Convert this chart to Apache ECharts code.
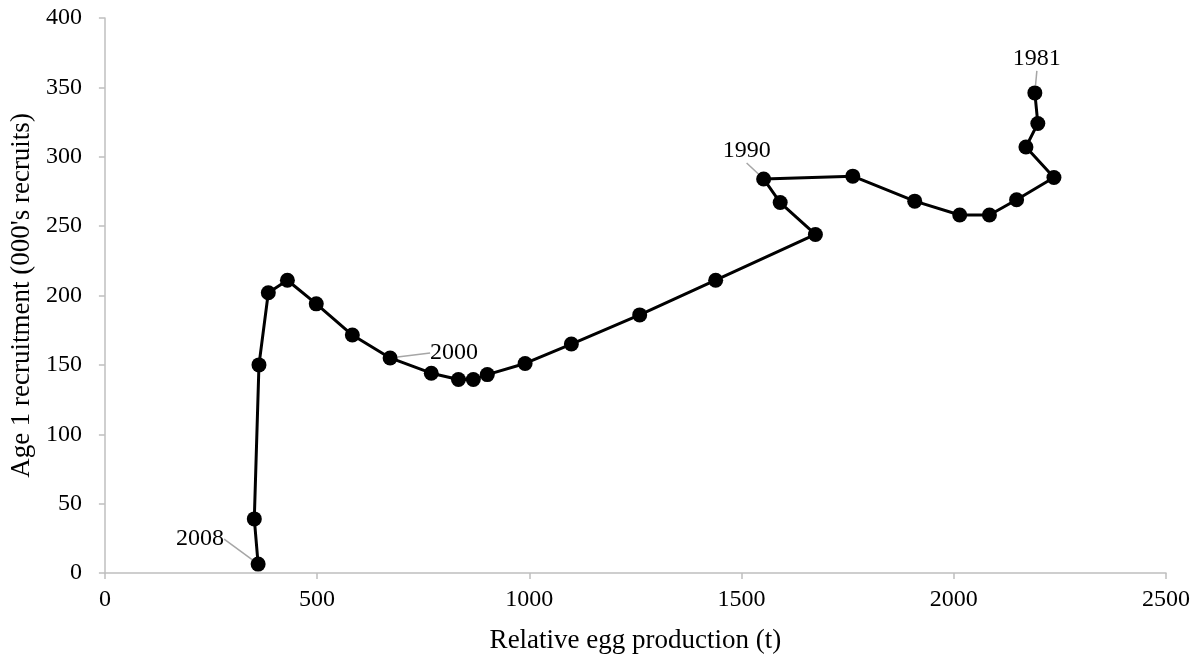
<!DOCTYPE html>
<html><head><meta charset="utf-8">
<script src="https://cdn.jsdelivr.net/npm/echarts@6/dist/echarts.min.js"></script>
<style>html,body{margin:0;padding:0;background:#fff}#c{width:1198px;height:659px}</style>
</head><body><div id="c"></div>
<script>
var eggProduction = [2191,2198,2170,2236,2148,2084,2014,1908,1762,1552,1591,1674,1439,1260,1099,990,901,868,833,769,672,583,498,430,385,363,352,361];
var recruitment = [346,324,307,285,269,258,258,268,286,284,267,244,211,186,165,151,143,139.5,139.5,144,155,171.5,194,211,202,150,39,6.4];
var pointLabels = ['1981','','','','','','','','','1990','','','','','','','','','','','2000','','','','','','','2008'];
var xTicks = [0,500,1000,1500,2000,2500];
var yTicks = [0,50,100,150,200,250,300,350,400];
var labelOffsets = {'1981':[2,-34],'1990':[-17,-28],'2000':[64,-5],'2008':[-58,-25]};

var FONT = '"Liberation Serif", "Times New Roman", serif';
var AXIS_GREY = '#bfbfbf';
var data = eggProduction.map(function(x,i){
  var d = {value:[x, recruitment[i]]};
  if (pointLabels[i]) {
    d.label = {show:true, formatter: pointLabels[i], position:'inside'};
    d.labelLine = {show:true, lineStyle:{color:'#a6a6a6', width:1.5}};
  }
  return d;
});
var plain = function(v){ return String(v); };
var chart = echarts.init(document.getElementById('c'));
chart.setOption({
  animation:false,
  backgroundColor:'#fff',
  grid:{left:101, right:32, top:18, bottom:81},
  xAxis:{type:'value', min:xTicks[0], max:xTicks[xTicks.length-1], interval:500,
    name:'Relative egg production (t)', nameLocation:'middle', nameGap:54,
    nameTextStyle:{fontFamily:FONT, fontSize:27, color:'#000'},
    axisLine:{show:true, lineStyle:{color:AXIS_GREY, width:1.5}},
    axisTick:{show:true, length:6, lineStyle:{color:AXIS_GREY, width:1.5}},
    axisLabel:{fontFamily:FONT, fontSize:24, color:'#000', margin:15, formatter:plain},
    splitLine:{show:false}},
  yAxis:{type:'value', min:yTicks[0], max:yTicks[yTicks.length-1], interval:50,
    name:"Age 1 recruitment (000's recruits)", nameLocation:'middle', nameGap:66, nameRotate:90,
    nameTextStyle:{fontFamily:FONT, fontSize:27, color:'#000'},
    axisLine:{show:true, lineStyle:{color:AXIS_GREY, width:1.5}},
    axisTick:{show:true, length:6, lineStyle:{color:AXIS_GREY, width:1.5}},
    axisLabel:{fontFamily:FONT, fontSize:24, color:'#000', margin:23, formatter:plain},
    splitLine:{show:false}},
  series:[{
    type:'line', data:data,
    symbol:'circle', symbolSize:15,
    lineStyle:{color:'#000', width:3},
    itemStyle:{color:'#000'},
    label:{show:false, fontFamily:FONT, fontSize:24, color:'#000'},
    labelLayout:function(p){
      var t = pointLabels[p.dataIndex];
      var o = labelOffsets[t];
      if (!o) return {};
      return {dx:o[0], dy:o[1]};
    }
  }]
});
</script></body></html>
